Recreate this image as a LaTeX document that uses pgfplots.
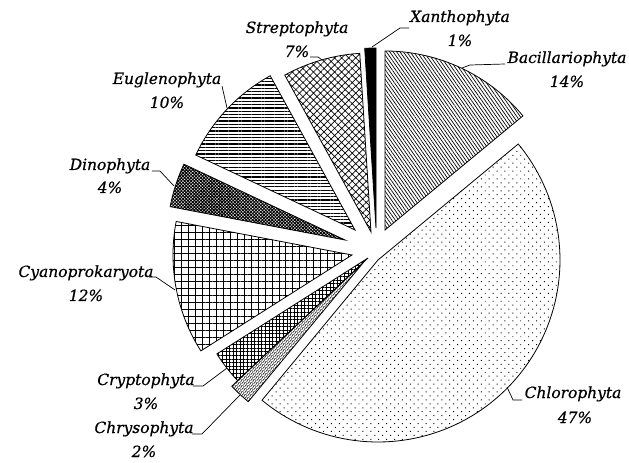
\documentclass[border=0pt]{standalone}
\usepackage{pgfplots}
\pgfplotsset{compat=1.18}
\usepackage{pgfplotstable}
\usepackage{fontspec}
\setmainfont{DejaVu Serif}
\newfontfamily\lblfont{DejaVu Serif Italic}[FakeBold=0.6]
\usetikzlibrary{patterns.meta}

\pgfdeclarepattern{
  name=zigzag,
  type=uncolored,
  bottom left={\pgfpoint{0pt}{0pt}},
  top right={\pgfpoint{4pt}{3pt}},
  tile size={\pgfpoint{4pt}{3pt}},
  tile transformation={\pgftransformrotate{45}},
  code={
    \pgfsetlinewidth{0.6pt}
    \pgfpathmoveto{\pgfpoint{0pt}{0.7pt}}
    \pgfpathlineto{\pgfpoint{2pt}{2.3pt}}
    \pgfpathlineto{\pgfpoint{4pt}{0.7pt}}
    \pgfusepath{stroke}
  }
}

% value = share in %, apx/apy = apex of the (exploded) slice, r = radius (layout in px)
\pgfplotstableread{
name value apx apy r
Bacillariophyta 14 385 230 179
Chlorophyta 47 378 260 182
Chrysophyta 2 363 263 180
Cryptophyta 3 368 258 179
Cyanoprokaryota 12 352 255 179
Dinophyta 4 345 240 178
Euglenophyta 10 355 230 176
Streptophyta 7 371 232 179
Xanthophyta 1 376 228 180
}\piedata

\tikzset{
  slicebase/.style={draw=black, line width=0.8pt, line join=miter},
  slice0/.style={slicebase, pattern={Lines[angle=-55, distance=2.8pt, line width=0.7pt]}},
  slice1/.style={slicebase, pattern={Dots[angle=45, distance=5.6pt, radius=0.7pt]}},
  slice2/.style={slicebase, pattern=zigzag},
  slice3/.style={slicebase, pattern={Hatch[angle=0, distance=3.6pt, line width=0.8pt]}},
  slice4/.style={slicebase, pattern={Hatch[angle=0, distance=7pt, line width=0.9pt]}},
  slice5/.style={slicebase, pattern={Hatch[angle=45, distance=2.3pt, line width=1pt]}},
  slice6/.style={slicebase, pattern={Lines[angle=0, distance=3.3pt, line width=1.2pt]}},
  slice7/.style={slicebase, pattern={Hatch[angle=45, distance=5pt, line width=0.7pt]}},
  slice8/.style={slicebase, fill=black},
  lbl/.style={font=\fontsize{15.5}{18}\lblfont, inner sep=0pt, anchor=base},
  leader/.style={draw=black, line width=0.7pt},
}

\begin{document}
\begin{tikzpicture}
\begin{axis}[
  x=1bp, y=1bp, y dir=reverse,
  xmin=0, xmax=629, ymin=0, ymax=463,
  hide axis, clip=false,
]
\path (rel axis cs:0,0) rectangle (rel axis cs:1,1);
\pgfmathsetmacro\cum{0}
\pgfplotsforeachungrouped \i in {0,...,8}{%
  \pgfplotstablegetelem{\i}{value}\of\piedata \let\v\pgfplotsretval
  \pgfplotstablegetelem{\i}{apx}\of\piedata \let\ax\pgfplotsretval
  \pgfplotstablegetelem{\i}{apy}\of\piedata \let\ay\pgfplotsretval
  \pgfplotstablegetelem{\i}{r}\of\piedata \let\rr\pgfplotsretval
  \pgfmathsetmacro\aS{90-3.6*\cum}%
  \pgfmathsetmacro\aE{90-3.6*(\cum+\v)}%
  \pgfmathsetmacro\cum{\cum+\v}%
  \edef\doslice{\noexpand\addplot[slice\i, domain=\aE:\aS, samples=90, variable=\noexpand\t]
    ({\ax+\rr*cos(\noexpand\t)},{\ay-\rr*sin(\noexpand\t)}) -- (axis cs:\ax,\ay) -- cycle;}%
  \doslice
}

% labels
\node[lbl] at (axis cs:460,22) {Xanthophyta};
\node[lbl] at (axis cs:460,46) {1\%};
\draw[leader] (axis cs:372,47) -- (axis cs:400,28) -- (axis cs:409,28);

\node[lbl] at (axis cs:567,63) {Bacillariophyta};
\node[lbl] at (axis cs:567,87) {14\%};
\draw[leader] (axis cs:462,68) -- (axis cs:470,65) -- (axis cs:505,64);

\node[lbl] at (axis cs:297,33) {Streptophyta};
\node[lbl] at (axis cs:297,57) {7\%};
\draw[leader] (axis cs:310,57) -- (axis cs:318,57) -- (axis cs:322,60);

\node[lbl] at (axis cs:167,84) {Euglenophyta};
\node[lbl] at (axis cs:167,108) {10\%};
\draw[leader] (axis cs:222,86) -- (axis cs:227,108);

\node[lbl] at (axis cs:110,170) {Dinophyta};
\node[lbl] at (axis cs:110,193) {4\%};
\draw[leader] (axis cs:152,171) -- (axis cs:160,171) -- (axis cs:174,186);

\node[lbl] at (axis cs:86,277) {Cyanoprokaryota};
\node[lbl] at (axis cs:86,301) {12\%};
\draw[leader] (axis cs:149,277) -- (axis cs:156,277) -- (axis cs:175,290);

\node[lbl] at (axis cs:146,385) {Cryptophyta};
\node[lbl] at (axis cs:146,409) {3\%};
\draw[leader] (axis cs:193,386) -- (axis cs:203,386) -- (axis cs:227,368);

\node[lbl] at (axis cs:144,433) {Chrysophyta};
\node[lbl] at (axis cs:144,457) {2\%};
\draw[leader] (axis cs:192,434) -- (axis cs:202,434) -- (axis cs:240,395);

\node[lbl] at (axis cs:573,398) {Chlorophyta};
\node[lbl] at (axis cs:575,423) {47\%};
\draw[leader] (axis cs:507,387) -- (axis cs:513,400) -- (axis cs:522,400);
\end{axis}
\end{tikzpicture}
\end{document}
